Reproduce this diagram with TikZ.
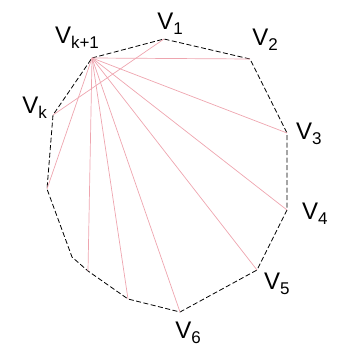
\documentclass[tikz,border=0pt]{standalone}
\usepackage{fontspec}
\setmainfont{Liberation Sans}
\usetikzlibrary{calc,positioning}
\definecolor{diagpink}{RGB}{238,165,175}
\tikzset{
    polyedge/.style={draw=black,line width=0.8pt,dash pattern=on 5pt off 2.5pt},
    diagedge/.style={draw=diagpink,line width=0.7pt},
    vlabel/.style={font=\fontsize{24}{24}\selectfont,inner sep=0pt}
}
\newcommand{\vname}[1]{V\raisebox{-5pt}{\fontsize{17}{17}\selectfont #1}}

\begin{document}
\begin{tikzpicture}[x=1pt,y=-1pt]
  \useasboundingbox (0,0) rectangle (339,350);
  \coordinate (Vk1) at (92,58);
  \coordinate (V1) at (164,39);
  \coordinate (V2) at (250,59);
  \coordinate (V3) at (287,133);
  \coordinate (V4) at (287,210);
  \coordinate (V5) at (257,270);
  \coordinate (V6) at (180,312);
  \coordinate (P3) at (128,299);
  \coordinate (P2) at (88,271);
  \coordinate (P1) at (72,257);
  \coordinate (P0) at (47,189);
  \coordinate (Vk) at (53,115);

  \draw[polyedge]
    (Vk1)--(V1)--(V2)--(V3)--(V4)--(V5)--(V6)--(P3)--(P2)--(P1)--(P0)--(Vk)--cycle;

  \draw[diagedge] (Vk)--(V1);
  \foreach \P in {V2,V3,V4,V5,V6,P3,P2,P0}{
    \draw[diagedge] (Vk1)--(\P);
  }

  \node[vlabel,above=9pt,xshift=-15pt] (lVk1) at (Vk1) {\vname{k+1}};
  \node[vlabel,above=4pt,xshift=6pt] (lV1) at (V1) {\vname{1}};
  \node[vlabel,above=8pt,xshift=15pt] (lV2) at (V2) {\vname{2}};
  \node[vlabel,right=9pt,yshift=-1pt] (lV3) at (V3) {\vname{3}};
  \node[vlabel,right=15pt,yshift=-4pt] (lV4) at (V4) {\vname{4}};
  \node[vlabel,right=7pt,yshift=-14pt] (lV5) at (V5) {\vname{5}};
  \node[vlabel,below=10pt,xshift=8pt] (lV6) at (V6) {\vname{6}};
  \node[vlabel,left=6pt,yshift=7pt] (lVk) at (Vk) {\vname{k}};
\end{tikzpicture}
\end{document}
